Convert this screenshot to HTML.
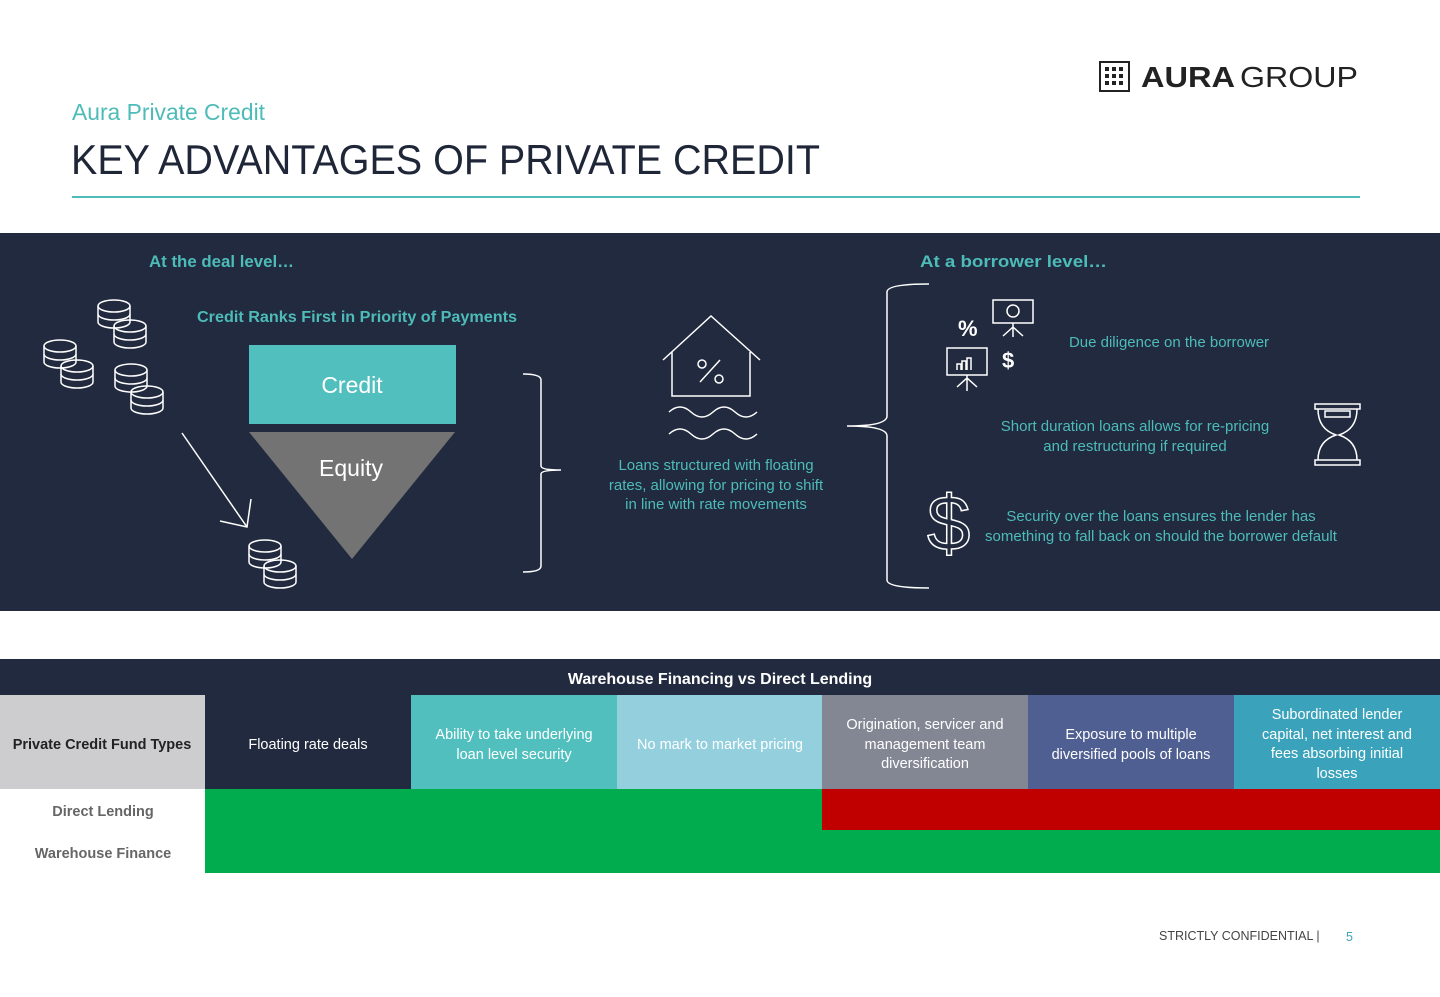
<!DOCTYPE html>
<html><head><meta charset="utf-8"><style>
html,body{margin:0;padding:0;background:#fff;}
svg{display:block;}
text{font-family:"Liberation Sans",sans-serif;}
</style></head><body>
<svg width="1440" height="997" viewBox="0 0 1440 997" xmlns="http://www.w3.org/2000/svg">
<!-- logo -->
<g fill="none" stroke="#222" stroke-width="2">
<rect x="1100" y="62" width="29" height="29"/>
</g>
<g fill="#222">
<rect x="1105" y="67" width="4" height="4"/><rect x="1112" y="67" width="4" height="4"/><rect x="1119" y="67" width="4" height="4"/>
<rect x="1105" y="74" width="4" height="4"/><rect x="1112" y="74" width="4" height="4"/><rect x="1119" y="74" width="4" height="4"/>
<rect x="1105" y="81" width="4" height="4"/><rect x="1112" y="81" width="4" height="4"/><rect x="1119" y="81" width="4" height="4"/>
</g>
<text x="1141" y="87" font-size="29" font-weight="bold" fill="#222" textLength="94" lengthAdjust="spacingAndGlyphs">AURA</text>
<text x="1240" y="87" font-size="29" fill="#222" textLength="118" lengthAdjust="spacingAndGlyphs">GROUP</text>

<text x="72" y="120" font-size="23" fill="#4dbcb8" textLength="193" lengthAdjust="spacingAndGlyphs">Aura Private Credit</text>
<text x="71" y="174" font-size="42" fill="#1e2638" textLength="749" lengthAdjust="spacingAndGlyphs">KEY ADVANTAGES OF PRIVATE CREDIT</text>
<rect x="72" y="196" width="1288" height="2" fill="#4dbcb8"/>

<!-- dark panel -->
<rect x="0" y="233" width="1440" height="378" fill="#212a3e"/>
<text x="149" y="267" font-size="17" font-weight="bold" fill="#4dbcb8" textLength="145" lengthAdjust="spacingAndGlyphs">At the deal level…</text>
<text x="920" y="267" font-size="17" font-weight="bold" fill="#4dbcb8" textLength="187" lengthAdjust="spacingAndGlyphs">At a borrower level…</text>
<text x="197" y="322" font-size="16" font-weight="bold" fill="#4dbcb8" textLength="320" lengthAdjust="spacingAndGlyphs">Credit Ranks First in Priority of Payments</text>

<rect x="249" y="345" width="207" height="79" fill="#52bfbf"/>
<text x="352" y="393" font-size="23" fill="#fff" text-anchor="middle">Credit</text>
<polygon points="249,432 455,432 352,559" fill="#737373"/>
<text x="351" y="476" font-size="23" fill="#fff" text-anchor="middle">Equity</text>

<!-- coins -->
<g fill="none" stroke="#fff" stroke-width="1.5">
<g id="c1"><ellipse cx="15" cy="8" rx="16" ry="6"/><path d="M-1 8v8a16 6 0 0 0 32 0v-8"/><path d="M-1 16v8a16 6 0 0 0 32 0v-8"/></g>
<use href="#c1" x="99" y="298"/><use href="#c1" x="115" y="318"/>
<use href="#c1" x="45" y="338"/><use href="#c1" x="62" y="358"/>
<use href="#c1" x="116" y="362"/><use href="#c1" x="132" y="384"/>
<use href="#c1" x="250" y="538"/><use href="#c1" x="265" y="558"/>
<line x1="182" y1="433" x2="247" y2="527"/><polyline points="220,521 247,527 251,499"/>
<!-- bracket left -->
<path d="M523 374 q18 0 18 6 v86 q0 4 20 4 q-20 0 -20 4 v92 q0 6 -18 6"/>
<!-- big brace -->
<path d="M929 284 q-42 0 -42 8 v124 q0 10 -40 10 q40 0 40 10 v144 q0 8 42 8"/>
<!-- house -->
<path d="M663 360 l48 -44 l49 44 M672 352 v44 h78 v-44"/>
<path d="M669 412 q11 -10 22 0 q11 10 22 0 q11 -10 22 0 q11 10 22 0 M669 434 q11 -10 22 0 q11 10 22 0 q11 -10 22 0 q11 10 22 0"/>
<line x1="700" y1="382" x2="720" y2="360"/><circle cx="702" cy="364" r="4"/><circle cx="719" cy="379" r="4"/>
<!-- presentation icons -->
<rect x="993" y="300" width="40" height="23"/><circle cx="1013" cy="311" r="6"/><path d="M1013 323v14 M1013 327l-10 9 M1013 327l10 9"/>
<rect x="947" y="348" width="40" height="27"/><path d="M967 375v16 M967 378l-10 9 M967 378l10 9 M957 370v-6h4v6 M962 370v-9h4v9 M967 370v-12h4v12"/>
<!-- hourglass -->
<path d="M1315 404h45v5h-45z M1315 460h45v5h-45z M1318 409q0 20 18 26q-18 6 -18 25 M1357 409q0 20 -18 26q18 6 18 25"/>
<path d="M1325 411h25v6h-25z"/>
</g>
<text x="958" y="336" font-size="22" font-weight="bold" fill="#fff">%</text>
<text x="1002" y="368" font-size="22" font-weight="bold" fill="#fff">$</text>
<text x="927" y="550" font-size="78" fill="none" stroke="#fff" stroke-width="1.5" font-weight="100">$</text>

<g font-size="15" fill="#4dbcb8" text-anchor="middle">
<text x="716" y="470">Loans structured with floating</text>
<text x="716" y="490">rates, allowing for pricing to shift</text>
<text x="716" y="509">in line with rate movements</text>
<text x="1169" y="347">Due diligence on the borrower</text>
<text x="1135" y="431">Short duration loans allows for re-pricing</text>
<text x="1135" y="451">and restructuring if required</text>
<text x="1161" y="521">Security over the loans ensures the lender has</text>
<text x="1161" y="541">something to fall back on should the borrower default</text>
</g>

<!-- table -->
<rect x="0" y="659" width="1440" height="36" fill="#212a3e"/>
<text x="720" y="684" font-size="16" font-weight="bold" fill="#fff" text-anchor="middle">Warehouse Financing vs Direct Lending</text>
<rect x="0" y="695" width="205" height="94" fill="#cdcdd0"/>
<rect x="205" y="695" width="206" height="94" fill="#212a3e"/>
<rect x="411" y="695" width="206" height="94" fill="#52bfbf"/>
<rect x="617" y="695" width="205" height="94" fill="#93cfdd"/>
<rect x="822" y="695" width="206" height="94" fill="#838793"/>
<rect x="1028" y="695" width="206" height="94" fill="#4f5f91"/>
<rect x="1234" y="695" width="206" height="94" fill="#3aa3bb"/>
<rect x="205" y="789" width="1235" height="84" fill="#00ac4e"/>
<rect x="822" y="789" width="618" height="41" fill="#c00000"/>
<g font-size="14.5" text-anchor="middle" fill="#fff">
<text x="102" y="749" fill="#222" font-weight="bold">Private Credit Fund Types</text>
<text x="308" y="749">Floating rate deals</text>
<text x="514" y="739">Ability to take underlying</text>
<text x="514" y="759">loan level security</text>
<text x="720" y="749">No mark to market pricing</text>
<text x="925" y="729">Origination, servicer and</text>
<text x="925" y="749">management team</text>
<text x="925" y="768">diversification</text>
<text x="1131" y="739">Exposure to multiple</text>
<text x="1131" y="759">diversified pools of loans</text>
<text x="1337" y="719">Subordinated lender</text>
<text x="1337" y="739">capital, net interest and</text>
<text x="1337" y="758">fees absorbing initial</text>
<text x="1337" y="778">losses</text>
<text x="103" y="816" fill="#666" font-weight="bold">Direct Lending</text>
<text x="103" y="858" fill="#666" font-weight="bold">Warehouse Finance</text>
</g>
<text x="1159" y="940" font-size="12.5" fill="#444">STRICTLY CONFIDENTIAL  |</text>
<text x="1346" y="941" font-size="12.5" fill="#3aa3bb">5</text>
</svg>
</body></html>
